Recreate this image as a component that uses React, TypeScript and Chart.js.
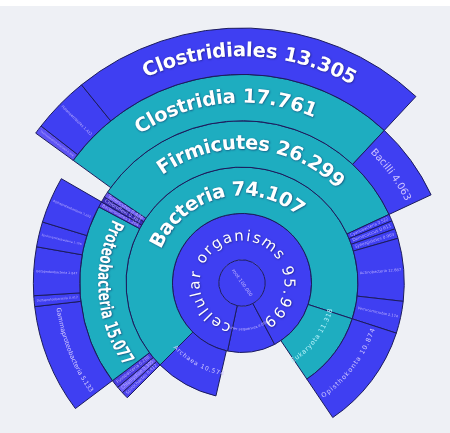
import React, { useEffect, useRef } from "react";
import { Chart, registerables } from "chart.js";

Chart.register(...registerables);

// ---- data: angular share (degrees) of each taxon in each ring,
// listed clockwise starting at the empty wedge below the centre. "" marks an empty wedge.
const rootNames = ["root 100.000"];
const rootValues = [360];

const level1Names = ["other sequences 4.001", "cellular organisms 95.999"];
const level1Values = [40, 320];

const level2Names = ["", "Archaea 10.574", "Bacteria 74.107", "Eukaryota 11.318", ""];
const level2Values = [41, 32, 243, 38, 6];

const level3Names = [
  "", "Spirochaetes 0.412", "Chlamydiae 0.305", "Fusobacteria 0.288", "Proteobacteria 15.077",
  "Bacteroidetes 1.204", "Chloroflexi 0.381", "Tenericutes 0.436", "Firmicutes 26.299",
  "Cyanobacteria 0.522", "Deinococcus 0.611", "Synergistetes 0.903", "Actinobacteria 12.687",
  "Verrucomicrobia 2.174", "Opisthokonta 10.874", "",
];
const level3Values = [73, 2.5, 2.5, 3, 65, 2, 2, 2, 121, 2.5, 3, 3.5, 22.5, 11.5, 38, 6];

const level4Names = [
  "", "Gammaproteobacteria 5.133", "Deltaproteobacteria 0.412", "Betaproteobacteria 2.847",
  "Epsilonproteobacteria 1.106", "Alphaproteobacteria 3.262", "", "Clostridia 17.761", "Bacilli 4.063", "",
];
const level4Values = [81, 30.5, 3, 13.5, 7, 13, 6, 97, 22, 87];

const level5Names = ["", "Thermoanaerobacterales 0.318", "Halanaerobiales 1.422", "Clostridiales 13.305", ""];
const level5Values = [154, 2, 13, 82, 109];

// ---- styling
const BLUE = "#3f3ff2";
const TEAL = "#1eadc0";
const BORDER = "#1b1b5c";
const LAVENDER = "#bcb0ff";
const tealTaxa = new Set([
  "Bacteria 74.107", "Eukaryota 11.318", "Proteobacteria 15.077", "Firmicutes 26.299", "Clostridia 17.761",
]);
const stripColors: Record<string, string> = {
  "Spirochaetes 0.412": "#4b43ee",
  "Chlamydiae 0.305": "#6c5ef6",
  "Fusobacteria 0.288": "#4a3ee2",
  "Bacteroidetes 1.204": "#5a46e4",
  "Chloroflexi 0.381": "#3a2cb8",
  "Tenericutes 0.436": "#6a58ee",
  "Thermoanaerobacterales 0.318": "#5d52f4",
};
type LabelStyle = {
  kind: "arc" | "radial" | "root";
  font?: string;
  dir?: 1 | -1;
  spacing?: number;
  squeeze?: number;
  color?: string;
  shadow?: boolean;
};
const BIG = 'bold 19.5px "DejaVu Sans"';
const labelStyles: Record<string, LabelStyle> = {
  "Clostridiales 13.305": { kind: "arc", font: BIG, dir: 1, shadow: true },
  "Clostridia 17.761": { kind: "arc", font: BIG, dir: 1, shadow: true },
  "Firmicutes 26.299": { kind: "arc", font: BIG, dir: 1, shadow: true },
  "Bacteria 74.107": { kind: "arc", font: BIG, dir: 1, shadow: true },
  "cellular organisms 95.999": { kind: "arc", font: '15px "DejaVu Sans"', dir: 1, spacing: 2.5, shadow: true },
  "Proteobacteria 15.077": { kind: "arc", font: 'bold 18px "DejaVu Sans"', dir: -1, squeeze: 0.66, shadow: true },
  "Bacilli 4.063": { kind: "arc", font: '10px "DejaVu Sans"', dir: 1, color: "#cdc2ff" },
  "Gammaproteobacteria 5.133": { kind: "arc", font: '6.3px "DejaVu Sans"', dir: -1, color: "#d2caff" },
  "Eukaryota 11.318": { kind: "arc", font: '6.5px "DejaVu Sans"', dir: -1, color: "#b6f2fb", spacing: 0.6 },
  "Opisthokonta 10.874": { kind: "arc", font: '6.5px "DejaVu Sans"', dir: -1, color: "#d2caff", spacing: 1 },
  "Archaea 10.574": { kind: "arc", font: '6px "DejaVu Sans"', dir: -1, color: "#d2caff", spacing: 0.8 },
  "other sequences 4.001": { kind: "arc", font: '3.6px "DejaVu Sans"', dir: -1, color: "#c4b9ff" },
  "root 100.000": { kind: "root" },
};
const ROOT_LABEL_TILT = 55;

function colorFor(name: string): string {
  if (!name) return "rgba(0,0,0,0)";
  if (tealTaxa.has(name)) return TEAL;
  return stripColors[name] || BLUE;
}

function arcText(
  ctx: CanvasRenderingContext2D, text: string, cx: number, cy: number, r: number, mid: number,
  st: LabelStyle
) {
  const dir = st.dir || 1;
  const spacing = st.spacing || 0;
  const squeeze = st.squeeze || 1;
  ctx.save();
  ctx.font = st.font || BIG;
  ctx.fillStyle = st.color || "#ffffff";
  ctx.textAlign = "center";
  ctx.textBaseline = "middle";
  if (st.shadow) {
    ctx.shadowColor = "rgba(10,10,70,0.6)";
    ctx.shadowBlur = 2;
    ctx.shadowOffsetX = 0.6;
    ctx.shadowOffsetY = 0.6;
  }
  const chars = Array.from(text);
  const widths = chars.map((c) => ctx.measureText(c).width * squeeze);
  const total = widths.reduce((a, b) => a + b, 0) + spacing * (chars.length - 1);
  let a = mid - (dir * total) / (2 * r);
  chars.forEach((c, i) => {
    const w = widths[i];
    const ac = a + (dir * (w / 2)) / r;
    ctx.save();
    ctx.translate(cx + r * Math.cos(ac), cy + r * Math.sin(ac));
    ctx.rotate(ac + (dir * Math.PI) / 2);
    ctx.scale(squeeze, 1);
    ctx.fillText(c, 0, 0);
    ctx.restore();
    a += (dir * (w + spacing)) / r;
  });
  ctx.restore();
}

function lineText(
  ctx: CanvasRenderingContext2D, text: string, x: number, y: number, angle: number, len: number, maxPx: number
) {
  ctx.save();
  ctx.font = `${maxPx}px "DejaVu Sans"`;
  const w = ctx.measureText(text).width;
  const size = w > len ? (maxPx * len) / w : maxPx;
  ctx.font = `${size}px "DejaVu Sans"`;
  ctx.fillStyle = LAVENDER;
  ctx.textAlign = "center";
  ctx.textBaseline = "middle";
  ctx.translate(x, y);
  ctx.rotate(Math.cos(angle) < 0 ? angle + Math.PI : angle);
  ctx.fillText(text, 0, 0);
  ctx.restore();
}

const labelPlugin = {
  id: "kronaLabels",
  afterDatasetsDraw(chart: any) {
    const ctx: CanvasRenderingContext2D = chart.ctx;
    chart.data.datasets.forEach((ds: any, di: number) => {
      const meta = chart.getDatasetMeta(di);
      meta.data.forEach((el: any, j: number) => {
        const name: string = ds.names[j];
        if (!name) return;
        const p = el.getProps(["x", "y", "startAngle", "endAngle", "innerRadius", "outerRadius"], true);
        const mid = (p.startAngle + p.endAngle) / 2;
        const rm = (p.innerRadius + p.outerRadius) / 2;
        const st = labelStyles[name];
        if (st && st.kind === "arc") {
          arcText(ctx, name, p.x, p.y, rm, mid, st);
        } else if (st && st.kind === "root") {
          lineText(ctx, name, p.x, p.y, (ROOT_LABEL_TILT * Math.PI) / 180, p.outerRadius * 1.7, 5);
        } else {
          lineText(
            ctx, name, p.x + rm * Math.cos(mid), p.y + rm * Math.sin(mid), mid,
            p.outerRadius - p.innerRadius - 5, 5
          );
        }
      });
    });
  },
};

export default function App() {
  const ref = useRef<HTMLCanvasElement>(null);
  useEffect(() => {
    const rings = [
      { names: level5Names, values: level5Values, weight: 1, border: 1 },
      { names: level4Names, values: level4Values, weight: 1, border: 1 },
      { names: level3Names, values: level3Values, weight: 1, border: 1 },
      { names: level2Names, values: level2Values, weight: 1, border: 1 },
      { names: level1Names, values: level1Values, weight: 1, border: 1 },
      { names: rootNames, values: rootValues, weight: 0.5, border: 0 },
    ];
    const chart = new Chart(ref.current as HTMLCanvasElement, {
      type: "doughnut",
      data: {
        datasets: rings.map((ring) => ({
          data: ring.values,
          names: ring.names,
          backgroundColor: ring.names.map(colorFor),
          borderColor: BORDER,
          borderWidth: ring.names.map((n) => (n ? ring.border : 0)),
          weight: ring.weight,
          clip: false,
        })) as any,
      },
      options: {
        animation: false,
        responsive: false,
        events: [],
        cutout: 0,
        radius: 255,
        rotation: 152,
        spacing: 0,
        layout: { padding: { left: 34, top: 133, right: 0, bottom: 0 } },
        plugins: { legend: { display: false }, tooltip: { enabled: false } },
      } as any,
      plugins: [labelPlugin],
    });
    return () => chart.destroy();
  }, []);

  return (
    <div style={{ position: "fixed", left: 0, top: 0, width: 450, height: 433, background: "#ffffff", overflow: "hidden" }}>
      <div style={{ position: "absolute", left: 0, top: 6, width: 450, height: 427, background: "#eef0f5" }} />
      <canvas ref={ref} width={450} height={433} style={{ position: "absolute", left: 0, top: 0, display: "block" }} />
    </div>
  );
}
